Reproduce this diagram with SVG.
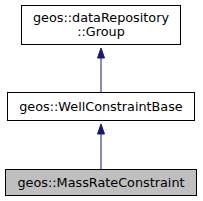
<svg xmlns="http://www.w3.org/2000/svg" width="203" height="201" viewBox="0 0 203 201">
<style>
.box{fill:#ffffff;stroke:#000000;stroke-width:1}
.cur{fill:#bfbfbf;stroke:#000000;stroke-width:1}
text{font-family:"DejaVu Sans",sans-serif;font-size:12.8px;fill:#000000;text-anchor:middle}
.edge{stroke:#191970;stroke-width:1;fill:none}
.head{fill:#191970;stroke:#191970;stroke-width:1}
</style>
<rect width="203" height="201" fill="#ffffff"/>
<g id="connectors">
<path class="edge" d="M101,92 L101,58"/>
<polygon class="head" points="104.5,58 101,48 97.5,58"/>
<path class="edge" d="M101,169 L101,134"/>
<polygon class="head" points="104.5,134 101,124 97.5,134"/>
</g>
<g id="node_group">
<rect class="box" x="21.5" y="5.5" width="159" height="39"/>
<text x="101" y="21.5">geos::dataRepository</text>
<text x="101" y="36">::Group</text>
</g>
<g id="node_wellconstraintbase">
<rect class="box" x="7.5" y="92.5" width="187" height="28"/>
<text x="101" y="111">geos::WellConstraintBase</text>
</g>
<g id="node_massrateconstraint">
<rect class="cur" x="5.5" y="169.5" width="191" height="26"/>
<text x="101" y="187">geos::MassRateConstraint</text>
</g>
</svg>
